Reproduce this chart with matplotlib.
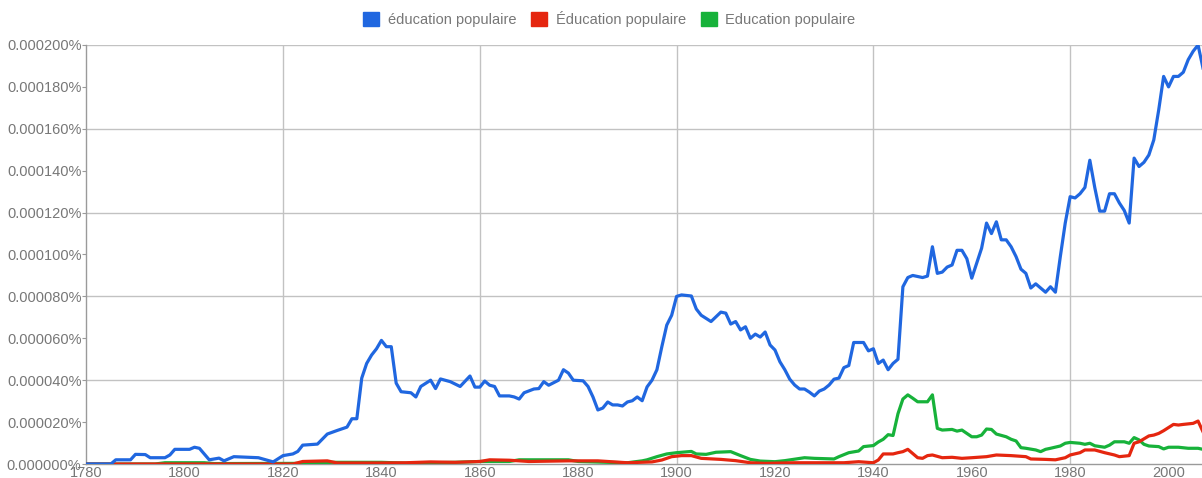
"""
Ngram-style chart: frequency of "éducation populaire" variants, 1780-2007.
"""
import matplotlib
matplotlib.use('Agg')
import matplotlib.pyplot as plt
from matplotlib.patches import Patch
from matplotlib.ticker import MultipleLocator, FuncFormatter

# Values are in units of 0.000001 % (so 200 -> 0.000200%)
blue_years = [1780, 1785, 1786, 1789, 1790, 1792, 1793, 1796, 1797, 1798, 1801, 1802, 1803,
              1805, 1807, 1808, 1810, 1815, 1818, 1820, 1822, 1823, 1824, 1827, 1829, 1831,
              1833, 1834, 1835, 1836, 1837, 1838, 1839, 1840, 1841, 1842, 1843, 1844, 1846,
              1847, 1848, 1850, 1851, 1852, 1854, 1856, 1858, 1859, 1860, 1861, 1862, 1863,
              1864, 1866, 1867, 1868, 1869, 1871, 1872, 1873, 1874, 1876, 1877, 1878, 1879,
              1881, 1882, 1883, 1884, 1885, 1886, 1887, 1888, 1889, 1890, 1891, 1892, 1893,
              1894, 1895, 1896, 1897, 1898, 1899, 1900, 1901, 1903, 1904, 1905, 1907, 1909,
              1910, 1911, 1912, 1913, 1914, 1915, 1916, 1917, 1918, 1919, 1920, 1921, 1922,
              1923, 1924, 1925, 1926, 1927, 1928, 1929, 1930, 1931, 1932, 1933, 1934, 1935,
              1936, 1938, 1939, 1940, 1941, 1942, 1943, 1944, 1945, 1946, 1947, 1948, 1950,
              1951, 1952, 1953, 1954, 1955, 1956, 1957, 1958, 1959, 1960, 1961, 1962, 1963,
              1964, 1965, 1966, 1967, 1968, 1969, 1970, 1971, 1972, 1973, 1974, 1975, 1976,
              1977, 1978, 1979, 1980, 1981, 1982, 1983, 1984, 1985, 1986, 1987, 1988, 1989,
              1990, 1991, 1992, 1993, 1994, 1995, 1996, 1997, 1998, 1999, 2000, 2001, 2002,
              2003, 2004, 2005, 2006, 2007]
blue_values = [0, 0, 2, 2, 4.6, 4.5, 3, 3, 4.3, 7, 7, 8, 7.5,
               2, 2.8, 1.5, 3.5, 3, 1, 4, 4.8, 6, 9, 9.5, 14.3, 16,
               17.6, 21.6, 21.6, 41, 48, 52, 55, 59, 56, 56, 38.6, 34.5, 34,
               32, 37, 40, 36, 40.6, 39.3, 37, 42, 36.7, 36.7, 39.6, 37.6, 37,
               32.5, 32.5, 32, 31, 34, 35.8, 36, 39.3, 37.6, 40, 45, 43.4, 40,
               39.7, 37, 32, 25.8, 26.7, 29.6, 28.2, 28.2, 27.7, 29.6, 30.2, 32, 30.2,
               36.8, 40, 45, 56, 66.3, 71, 80, 80.7, 80.2, 74, 71, 68, 72.5,
               72, 66.8, 68, 64, 65.5, 60, 62, 60.6, 63, 56.8, 54.4, 48.8, 45,
               40.5, 37.7, 35.8, 35.8, 34.3, 32.5, 34.8, 35.8, 37.7, 40.5, 41, 46, 47,
               58, 58, 54, 55, 48, 49.6, 45, 48, 50, 84.6, 89, 90, 89,
               89.7, 103.7, 91, 91.6, 94, 95, 102, 102, 98, 88.7, 95.8, 103, 115,
               110, 115.6, 107, 107, 103.7, 99, 93, 91, 84, 86, 84, 82, 84.6,
               82, 99, 115, 127.6, 127, 129, 132, 145, 132, 120.7, 120.7, 129, 129,
               124.6, 121, 115, 146, 142, 144, 147.5, 154.7, 169, 185, 180, 185, 185,
               187, 193, 197, 200, 189]

red_years = [1780, 1822, 1824, 1829, 1831, 1840, 1845, 1850, 1855, 1860, 1862, 1866, 1870,
             1878, 1884, 1890, 1895, 1897, 1899, 1901, 1903, 1905, 1909, 1912, 1915, 1918,
             1924, 1934, 1937, 1940, 1941, 1942, 1944, 1945, 1946, 1947, 1948, 1949, 1950,
             1951, 1952, 1954, 1956, 1958, 1960, 1963, 1965, 1968, 1971, 1972, 1975, 1977,
             1979, 1980, 1982, 1983, 1985, 1987, 1989, 1990, 1992, 1993, 1994, 1995, 1996,
             1997, 1998, 1999, 2001, 2002, 2003, 2005, 2006, 2007]
red_values = [0, 0, 1.2, 1.5, 0.5, 0.5, 0.6, 1, 0.8, 1.2, 2, 1.8, 1.2,
              1.5, 1.5, 0.6, 1, 1.9, 3.5, 4, 4, 2.7, 2.2, 1.6, 0.6, 0.3,
              0.6, 0.6, 1.1, 0.6, 1.9, 4.8, 4.8, 5.4, 5.9, 7, 5, 3, 2.7,
              4, 4.3, 3, 3.2, 2.7, 3, 3.5, 4.3, 4, 3.5, 2.4, 2.2, 2,
              3, 4.3, 5.4, 6.7, 6.7, 5.4, 4.3, 3.5, 4, 9.9, 10.6, 12, 13.4,
              13.8, 14.6, 15.9, 18.9, 18.6, 18.9, 19.4, 20.5, 15.4]

green_years = [1780, 1794, 1796, 1804, 1806, 1824, 1830, 1840, 1845, 1855, 1860, 1866, 1868,
               1878, 1880, 1886, 1890, 1893, 1894, 1896, 1898, 1900, 1903, 1904, 1906, 1908,
               1911, 1913, 1915, 1917, 1920, 1922, 1926, 1928, 1932, 1933, 1935, 1937, 1938,
               1940, 1941, 1942, 1943, 1944, 1945, 1946, 1947, 1948, 1949, 1951, 1952, 1953,
               1954, 1956, 1957, 1958, 1959, 1960, 1961, 1962, 1963, 1964, 1965, 1967, 1968,
               1969, 1970, 1971, 1973, 1974, 1975, 1976, 1978, 1979, 1980, 1982, 1983, 1984,
               1985, 1987, 1988, 1989, 1991, 1992, 1993, 1994, 1995, 1996, 1998, 1999, 2000,
               2002, 2004, 2006, 2007]
green_values = [0, 0, 0.6, 0.6, 0.2, 0.3, 0.8, 0.8, 0.4, 0.8, 1.2, 1.2, 2,
                2, 1.2, 0.8, 0.6, 1.5, 2, 3.5, 4.8, 5.4, 6, 4.8, 4.6, 5.6,
                5.9, 4, 2.2, 1.4, 1.1, 1.6, 3, 2.7, 2.4, 3.5, 5.4, 6.2, 8.3,
                8.8, 10.5, 11.8, 14, 13.6, 24, 31, 33, 31.4, 29.7, 29.7, 33, 17,
                16.2, 16.5, 15.7, 16.2, 14.6, 13, 13, 13.8, 16.7, 16.5, 14.3, 13, 11.8,
                11, 7.8, 7.5, 6.7, 5.9, 7, 7.5, 8.6, 9.9, 10.3, 9.9, 9.4, 9.9,
                8.7, 8, 9, 10.6, 10.6, 9.9, 12.6, 11.5, 9.4, 8.6, 8.3, 7.2, 8,
                8, 7.5, 7.5, 7]

labels = ['éducation populaire', 'Éducation populaire', 'Education populaire']
colors = ['#2067e0', '#e5260f', '#17b23a']

plt.rcParams['font.family'] = ['Liberation Sans', 'DejaVu Sans']

fig = plt.figure(figsize=(12.02, 4.78), dpi=100)
ax = fig.add_axes([86.25 / 1202, 14 / 478, (1202 - 86.25) / 1202, 419 / 478])

# draw green and red first so the blue line sits on top
ax.plot(green_years, green_values, color=colors[2], lw=2.3, solid_joinstyle='round', zorder=3)
ax.plot(red_years, red_values, color=colors[1], lw=2.3, solid_joinstyle='round', zorder=3)
ax.plot(blue_years, blue_values, color=colors[0], lw=2.3, solid_joinstyle='round', zorder=4)

ax.set_xlim(1780, 2006.8)
ax.set_ylim(0, 200)

ax.xaxis.set_major_locator(MultipleLocator(20))
ax.yaxis.set_major_locator(MultipleLocator(20))
ax.yaxis.set_major_formatter(FuncFormatter(lambda v, _: f'{v / 1e6:.6f}%'))

# grid only every 40 years / every 0.000040%
for yr in range(1820, 2001, 40):
    ax.axvline(yr, color='#c2c2c2', lw=1, zorder=1)
for v in range(40, 201, 40):
    ax.axhline(v, color='#c2c2c2', lw=1, zorder=1)

for side in ['top', 'right']:
    ax.spines[side].set_visible(False)
for side in ['left', 'bottom']:
    ax.spines[side].set_color('#9a9a9a')
    ax.spines[side].set_linewidth(1)

ax.tick_params(axis='y', length=3, color='#9a9a9a', labelsize=10.5, labelcolor='#777777', pad=0.5)
ax.tick_params(axis='x', length=0, labelsize=10.5, labelcolor='#777777', pad=1.5)

handles = [Patch(facecolor=c, edgecolor=c) for c in colors]
fig.legend(handles, labels, loc='upper center', bbox_to_anchor=(0.507, 1.005), ncol=3,
           frameon=False, fontsize=10.5, labelcolor='#777777', handlelength=1.1,
           handleheight=1.1, handletextpad=0.6, columnspacing=1.0)

fig.savefig('out.png', dpi=100)
plt.close(fig)
